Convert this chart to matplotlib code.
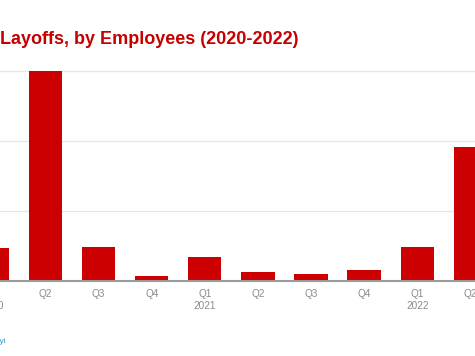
import matplotlib.pyplot as plt

# Data (gridlines assumed at 20k steps)
quarters = ['Q1', 'Q2', 'Q3', 'Q4', 'Q1', 'Q2', 'Q3', 'Q4', 'Q1', 'Q2']
years = ['2020', '', '', '', '2021', '', '', '', '2022', '']
employees = [9400, 59900, 9500, 1350, 6800, 2550, 2000, 3150, 9700, 38300]
grid_values = [20000, 40000, 60000]

labels = [q + ('\n' + y if y else '') for q, y in zip(quarters, years)]
bar_color = '#cc0000'
tick_style = dict(fontsize=7.2, color='#8a8a8a', family='Liberation Sans', linespacing=1.25)

fig = plt.figure(figsize=(4.75, 3.56), dpi=100)
# axes spans the whole width: the chart is a crop of a wider one
ax = fig.add_axes([0, (356 - 280.7) / 356, 1, (280.7 - 60) / 356])

x = list(range(len(employees)))
ax.bar(x, employees, width=0.627, color=bar_color, zorder=3)

ax.set_yticks(grid_values)
ax.tick_params(axis='y', left=False, labelleft=False)
ax.grid(axis='y', color='#e6e6e6', linewidth=0.9, zorder=0)

ax.set_xticks(x)
ax.set_xticklabels(labels, **tick_style)
ax.tick_params(axis='x', length=0, pad=6)

# limits after the ticks, set_xticks would widen them
ax.set_xlim(0.143, 0.143 + 475 / 53.1)
ax.set_ylim(0, 220.7 / 0.0035)

# first label sits outside the view, so matplotlib skips it: draw it by hand
ax.annotate(labels[0], xy=(x[0], 0), xycoords=('data', 'axes fraction'),
            xytext=(0, -6), textcoords='offset points', ha='center', va='top',
            multialignment='center', annotation_clip=False, **tick_style)

for s in ['top', 'left', 'right']:
    ax.spines[s].set_visible(False)
ax.spines['bottom'].set_color('#9a9a9a')
ax.spines['bottom'].set_linewidth(1.5)
ax.spines['bottom'].set_zorder(4)

fig.text(0, 1 - 44 / 356, 'Layoffs, by Employees (2020-2022)', fontsize=13,
         fontweight='bold', color='#c40000', family='Liberation Sans',
         ha='left', va='baseline')
fig.text(6 / 475, 1 - 341.5 / 356, 'Source: layoffs.fyi', fontsize=6,
         color='#3a9fd0', family='Liberation Sans', ha='right', va='center')

plt.savefig('out.png')
